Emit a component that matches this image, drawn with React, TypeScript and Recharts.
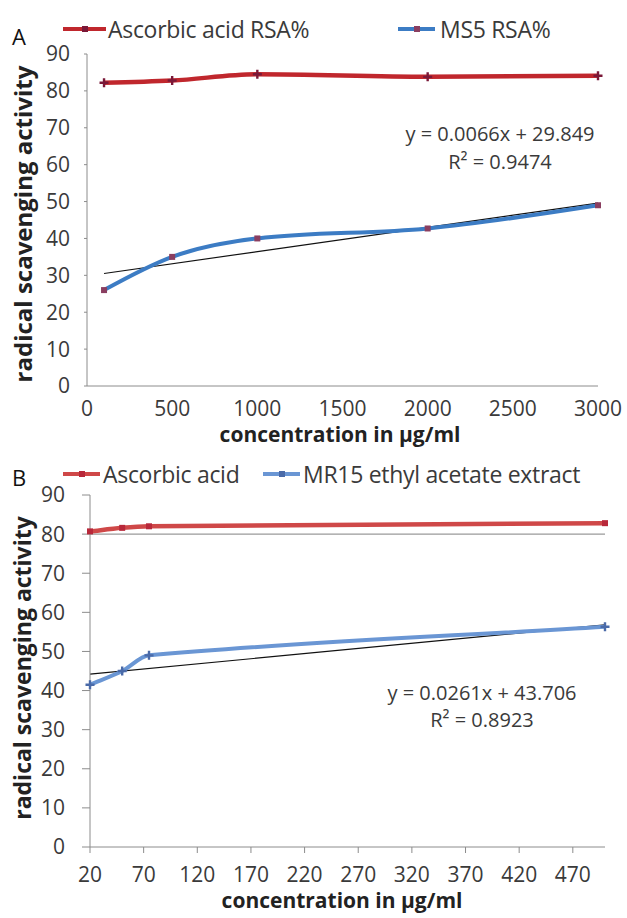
import React from "react";
import { LineChart, Line, XAxis, YAxis, ReferenceLine } from "recharts";

// ---- Panel A data ----
const concA = [100, 500, 1000, 2000, 3000];
const ascorbicA = [82.2, 82.8, 84.5, 83.8, 84.1];
const ms5A = [26, 35, 40, 42.7, 49];
const trendAx = [100, 3000];
const trendAy = [30.5, 49.6];
const ticksAx = [0, 500, 1000, 1500, 2000, 2500, 3000];
const ticksY = [0, 10, 20, 30, 40, 50, 60, 70, 80, 90];

// ---- Panel B data ----
const concB = [20, 50, 75, 500];
const ascorbicB = [80.7, 81.6, 82.0, 82.8];
const mr15B = [41.5, 45, 49, 56.3];
const trendBx = [20, 500];
const trendBy = [44.2, 56.8];
const baselineB = [80];
const ticksBx = [20, 70, 120, 170, 220, 270, 320, 370, 420, 470];

const zip = (xs: number[], ys: number[]) => xs.map((x, i) => ({ x, y: ys[i] }));

const FONT = "'Open Sans', sans-serif";
const AXIS = "#8c8c8c";
const TXT = "#3a3a3a";

const RED_A = "#c0272d";
const BLUE_A = "#3c7cc4";
const RED_B = "#cf4848";
const BLUE_B = "#6a96d4";

// Smooth curve similar to spreadsheet smoothing (finite-difference Hermite)
const smoothCurve = (context: any) => {
  let pts: number[][] = [];
  return {
    areaStart() {},
    areaEnd() {},
    lineStart() {
      pts = [];
    },
    lineEnd() {
      const n = pts.length;
      if (!n) return;
      context.moveTo(pts[0][0], pts[0][1]);
      if (n === 1) return;
      const m = pts.map((p, i) => {
        const a = pts[Math.max(0, i - 1)];
        const b = pts[Math.min(n - 1, i + 1)];
        return (b[1] - a[1]) / (b[0] - a[0] || 1);
      });
      for (let i = 0; i < n - 1; i++) {
        const [x0, y0] = pts[i];
        const [x1, y1] = pts[i + 1];
        const d = (x1 - x0) / 3;
        context.bezierCurveTo(x0 + d, y0 + m[i] * d, x1 - d, y1 - m[i + 1] * d, x1, y1);
      }
    },
    point(x: number, y: number) {
      pts.push([+x, +y]);
    },
  };
};

const crossDot = (color: string) => (p: any) => {
  const { cx, cy, index } = p;
  if (cx == null || cy == null) return <g key={index} />;
  return (
    <path
      key={index}
      d={`M${cx - 1.2},${cy - 4.5}h2.4v3.3h3.3v2.4h-3.3v3.3h-2.4v-3.3h-3.3v-2.4h3.3z`}
      fill={color}
    />
  );
};
const squareDot = (color: string) => (p: any) => {
  const { cx, cy, index } = p;
  if (cx == null || cy == null) return <g key={index} />;
  return <rect key={index} x={cx - 3} y={cy - 3} width={6} height={6} fill={color} />;
};

const abs = (x: number, y: number, extra: React.CSSProperties = {}): React.CSSProperties => ({
  position: "absolute",
  left: x,
  top: y,
  transform: "translate(-50%,-50%)",
  whiteSpace: "nowrap",
  fontFamily: FONT,
  color: TXT,
  ...extra,
});

const LegendItem = ({ x, y, x2, color, marker, label, textX }: any) => (
  <>
    <div style={{ position: "absolute", left: x, top: y - 2, width: x2 - x, height: 4, background: color }} />
    <div
      style={{
        position: "absolute",
        left: (x + x2) / 2 - 3,
        top: y - 3,
        width: 6,
        height: 6,
        background: marker,
      }}
    />
    <div
      style={{
        position: "absolute",
        left: textX,
        top: y,
        transform: "translateY(-50%)",
        whiteSpace: "nowrap",
        fontFamily: FONT,
        fontSize: 23,
        color: TXT,
        letterSpacing: -0.3,
      }}
    >
      {label}
    </div>
  </>
);

export default function App() {
  const tickStyle = { fontSize: 21, fill: TXT, fontFamily: FONT };
  return (
    <div style={{ position: "absolute", left: 0, top: 0, width: 627, height: 918, background: "#fff", overflow: "hidden" }}>
      {/* Panel A */}
      <div style={{ position: "absolute", left: 0, top: 0 }}>
        <LineChart width={627} height={455} margin={{ top: 54, right: 29, bottom: 39, left: 0 }}>
          <XAxis
            type="number"
            dataKey="x"
            domain={[0, 3000]}
            ticks={ticksAx}
            height={30}
            axisLine={{ stroke: AXIS }}
            tickLine={false}
            tickSize={0}
            tickMargin={15}
            tick={tickStyle}
            interval={0}
          />
          <YAxis
            type="number"
            domain={[0, 90]}
            ticks={ticksY}
            width={87}
            axisLine={{ stroke: AXIS }}
            tickLine={{ stroke: AXIS }}
            tickSize={3}
            tickMargin={14}
            tick={tickStyle}
            interval={0}
          />
          <Line data={zip(trendAx, trendAy)} dataKey="y" type="linear" stroke="#111" strokeWidth={1.2} dot={false} isAnimationActive={false} />
          <Line data={zip(concA, ascorbicA)} dataKey="y" type="monotone" stroke={RED_A} strokeWidth={4.5} dot={crossDot("#7a1838")} isAnimationActive={false} />
          <Line data={zip(concA, ms5A)} dataKey="y" type="monotone" stroke={BLUE_A} strokeWidth={4} dot={squareDot("#8a3e60")} isAnimationActive={false} />
        </LineChart>
      </div>

      {/* Panel B */}
      <div style={{ position: "absolute", left: 0, top: 455 }}>
        <LineChart width={627} height={463} margin={{ top: 40, right: 22, bottom: 41, left: 0 }}>
          <XAxis
            type="number"
            dataKey="x"
            domain={[20, 500]}
            ticks={ticksBx}
            height={30}
            axisLine={{ stroke: AXIS }}
            tickLine={{ stroke: AXIS }}
            tickSize={6}
            tickMargin={14}
            tick={tickStyle}
            interval={0}
          />
          <YAxis
            type="number"
            domain={[0, 90]}
            ticks={ticksY}
            width={90}
            axisLine={{ stroke: AXIS }}
            tickLine={{ stroke: AXIS }}
            tickSize={8}
            tickMargin={17}
            tick={tickStyle}
            interval={0}
          />
          {baselineB.map((v) => (
            <ReferenceLine key={v} y={v} stroke="#9a9a9a" strokeWidth={1.2} />
          ))}
          <Line data={zip(trendBx, trendBy)} dataKey="y" type="linear" stroke="#111" strokeWidth={1.2} dot={false} isAnimationActive={false} />
          <Line data={zip(concB, ascorbicB)} dataKey="y" type={smoothCurve as any} stroke={RED_B} strokeWidth={4.5} dot={squareDot("#b8283a")} isAnimationActive={false} />
          <Line data={zip(concB, mr15B)} dataKey="y" type={smoothCurve as any} stroke={BLUE_B} strokeWidth={4} dot={crossDot("#4a6aa8")} isAnimationActive={false} />
        </LineChart>
      </div>

      {/* Panel labels */}
      <div style={abs(19, 36, { fontSize: 22, color: "#111" })}>A</div>
      <div style={abs(19, 477, { fontSize: 22, color: "#111" })}>B</div>

      {/* Legends */}
      <LegendItem x={63} x2={106} y={29} color={RED_A} marker="#7a1838" label="Ascorbic acid RSA%" textX={108} />
      <LegendItem x={398} x2={435} y={29} color={BLUE_A} marker="#8a3e60" label="MS5 RSA%" textX={440} />
      <LegendItem x={63} x2={100} y={474} color={RED_B} marker="#b8283a" label="Ascorbic acid" textX={103} />
      <LegendItem x={263} x2={300} y={474} color={BLUE_B} marker="#4a6aa8" label="MR15 ethyl acetate extract" textX={303} />

      {/* Axis titles */}
      <div style={abs(340, 434, { fontSize: 21, fontWeight: 700, color: "#222" })}>concentration in µg/ml</div>
      <div style={abs(342, 900, { fontSize: 21, fontWeight: 700, color: "#222" })}>concentration in µg/ml</div>
      <div style={abs(22, 224, { fontSize: 24, fontWeight: 700, color: "#222", transform: "translate(-50%,-50%) rotate(-90deg)" })}>
        radical scavenging activity
      </div>
      <div style={abs(22, 668, { fontSize: 23, fontWeight: 700, color: "#222", transform: "translate(-50%,-50%) rotate(-90deg)" })}>
        radical scavenging activity
      </div>

      {/* Trendline equations */}
      <div style={abs(500, 133, { fontSize: 20 })}>y = 0.0066x + 29.849</div>
      <div style={abs(500, 161, { fontSize: 20 })}>R² = 0.9474</div>
      <div style={abs(482, 692, { fontSize: 20 })}>y = 0.0261x + 43.706</div>
      <div style={abs(482, 719, { fontSize: 20 })}>R² = 0.8923</div>
    </div>
  );
}
